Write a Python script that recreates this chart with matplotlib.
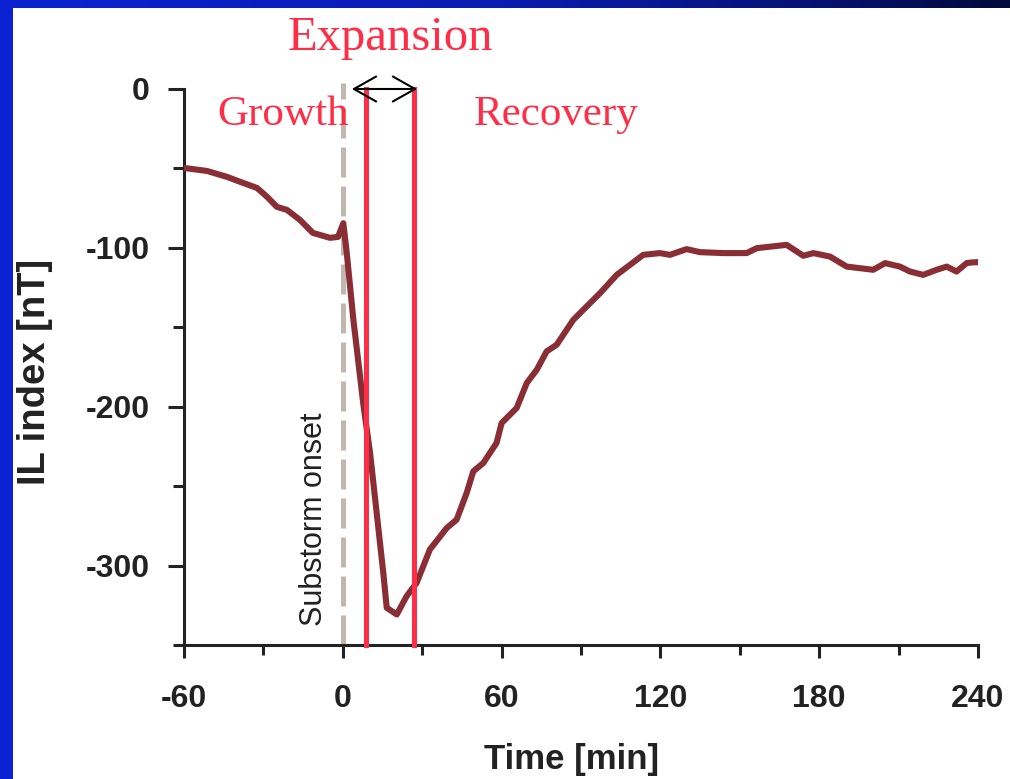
import numpy as np
import matplotlib
matplotlib.use("Agg")
import matplotlib.pyplot as plt
from matplotlib.colors import LinearSegmentedColormap
from matplotlib.patches import Rectangle

# ---- data ----
time_min = [-60, -51.3, -43.8, -37.7, -32.4, -28.6, -24.9, -21.1, -16.2, -11.3,
            -4.8, -1.8, 0.2, 1.5, 4.0, 7.7, 10.3, 12.8, 15.3, 16.6, 20.4, 24.1,
            27.9, 32.9, 39.3, 43.0, 46.8, 49.3, 53.1, 58.1, 60.0, 65.7, 69.5,
            73.3, 77.0, 80.8, 87.1, 93.4, 97.2, 103.5, 108.5, 113.5, 119.8,
            123.6, 129.9, 134.9, 143.8, 152.6, 156.4, 167.7, 174.0, 177.8,
            184.1, 190.4, 200.4, 204.9, 210.5, 214.3, 219.3, 224.4, 228.2,
            231.9, 235.7, 237.6, 240]
il_index = [-49.7, -51.6, -55.3, -59.1, -62.3, -67.9, -74.2, -76.1, -82.4, -90.6,
            -93.7, -93.1, -84.5, -103.3, -145.3, -197.7, -229.1, -266.9, -304.6,
            -326.6, -330.8, -319.3, -310.9, -289.9, -276.3, -271.1, -254.3,
            -240.7, -235.4, -222.8, -210.3, -200.8, -185.1, -176.7, -165.2,
            -161.0, -145.3, -134.8, -128.5, -117.0, -110.7, -104.4, -103.3,
            -104.4, -100.8, -102.7, -103.3, -103.3, -100.2, -98.1, -105.0,
            -103.3, -105.5, -111.8, -113.8, -109.6, -111.8, -114.9, -117.0,
            -113.8, -111.8, -114.9, -109.6, -109.2, -109.0]
onset_time = 0
expansion_bounds = [8.7, 26.8]
arrow_span = [3.4, 28.1]
xticks = [-60, 0, 60, 120, 180, 240]
yticks = [0, -100, -200, -300]
phase_labels = ["Growth", "Expansion", "Recovery"]

W, H = 1010, 779
fig = plt.figure(figsize=(W / 100, H / 100), dpi=100)
fig.patch.set_facecolor("white")

# slide background: blue left strip + gradient top strip
fig.patches.append(Rectangle((0, 0), 13 / W, 1, transform=fig.transFigure,
                             facecolor="#0a22d2", edgecolor="none", zorder=0))
bar = fig.add_axes([0, 1 - 8 / H, 1, 8 / H], zorder=0)
cmap = LinearSegmentedColormap.from_list(
    "slide", [(0, "#0a22d2"), (0.5, "#0a1cb0"), (0.8, "#061275"), (1, "#000a3a")])
bar.imshow(np.linspace(0, 1, 256)[None, :], aspect="auto", cmap=cmap,
           extent=[0, 1, 0, 1])
bar.set_axis_off()

x0, x1 = 184, 978
y0, y1 = 89, 645
ax = fig.add_axes([x0 / W, 1 - y1 / H, (x1 - x0) / W, (y1 - y0) / H])
ax.set_xlim(-60, 240)
ax.set_ylim(-350, 0)
ax.set_facecolor("none")
for s in ("top", "right"):
    ax.spines[s].set_visible(False)
for s in ("left", "bottom"):
    ax.spines[s].set_linewidth(2.2)
    ax.spines[s].set_color("#222222")

ax.set_xticks(xticks)
ax.set_xticks(np.arange(-30, 240, 60), minor=True)
ax.set_yticks(yticks)
ax.set_yticks([-50, -150, -250, -350], minor=True)
ax.set_xticklabels([str(v) for v in xticks])
ax.set_yticklabels([str(v) for v in yticks])
for lbl in ax.get_xticklabels() + ax.get_yticklabels():
    lbl.set_fontfamily("Liberation Sans")
    lbl.set_fontweight("bold")
    lbl.set_fontsize(23)
    lbl.set_color("#222222")
ax.tick_params(axis="x", which="major", direction="out", length=9, width=2.2,
               pad=19, color="#222222")
ax.tick_params(axis="x", which="minor", direction="out", length=7, width=2.2,
               color="#222222")
ax.tick_params(axis="y", which="major", direction="out", length=11.5, width=2.2,
               pad=13, color="#222222")
ax.tick_params(axis="y", which="minor", direction="out", length=8, width=2.2,
               color="#222222")

# substorm onset dashed line
ax.plot([onset_time, onset_time], [-350, 4], color="#c0b8b0", lw=3.6,
        dashes=(6, 1.8), clip_on=False, zorder=1)
ax.text(-7.9, -338, "Substorm onset", rotation=90, rotation_mode="anchor",
        ha="left", va="baseline", fontsize=22, family="Liberation Sans",
        color="#222222")

# IL index curve
ax.plot(time_min, il_index, color="#8a2e35", lw=4.4, solid_joinstyle="round",
        solid_capstyle="round", zorder=3)

# expansion phase boundaries
red = "#ff2d46"
for b in expansion_bounds:
    ax.plot([b, b], [-350, 0], color=red, lw=3.6, clip_on=False, zorder=4)

ax.annotate("", xy=(arrow_span[1], 0), xytext=(arrow_span[0], 0),
            arrowprops=dict(arrowstyle="<->,head_length=0.8,head_width=0.45",
                            mutation_scale=20, lw=1.5, color="black",
                            shrinkA=0, shrinkB=0),
            annotation_clip=False, zorder=5)

serif = "Liberation Serif"
fig.text(217 / W, 1 - 125 / H, phase_labels[0], fontsize=31, family=serif,
         color=red, ha="left", va="baseline")
fig.text(288 / W, 1 - 50 / H, phase_labels[1], fontsize=35, family=serif,
         color=red, ha="left", va="baseline")
fig.text(474 / W, 1 - 125 / H, phase_labels[2], fontsize=31, family=serif,
         color=red, ha="left", va="baseline")

# axis labels
fig.text(572 / W, 1 - 769 / H, "Time [min]", ha="center", va="baseline",
         fontsize=25, family="Liberation Sans", weight="bold", color="#222222")
fig.text(45 / W, 1 - 485 / H, "IL index [nT]", rotation=90,
         rotation_mode="anchor", ha="left", va="baseline", fontsize=27.5,
         family="Liberation Sans", weight="bold", color="#222222")

fig.savefig("out.png", dpi=100, facecolor="white")
